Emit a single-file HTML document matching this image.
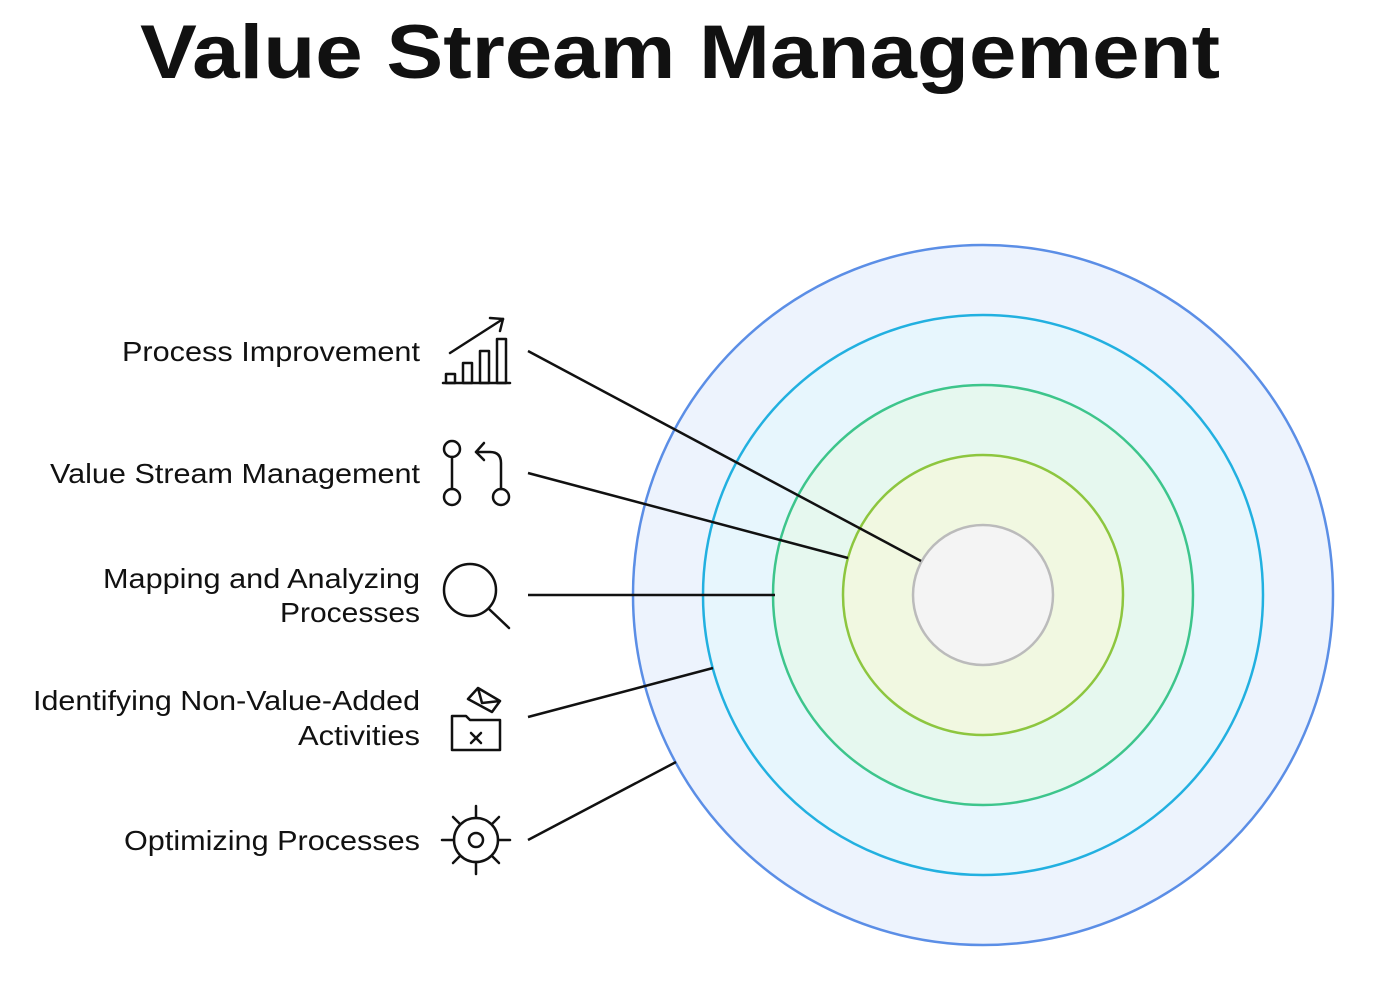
<!DOCTYPE html>
<html><head><meta charset="utf-8"><style>
body{margin:0;background:#fff;width:1384px;height:982px;overflow:hidden}
svg text{font-family:"Liberation Sans",sans-serif}
</style></head><body>
<svg width="1384" height="982" viewBox="0 0 1384 982" xmlns="http://www.w3.org/2000/svg">
<text x="140" y="78" font-size="76" font-weight="bold" fill="#111" textLength="1080" lengthAdjust="spacingAndGlyphs">Value Stream Management</text>
<circle cx="983" cy="595" r="350" fill="#edf3fd" stroke="#5b8ee6" stroke-width="2.5"/>
<circle cx="983" cy="595" r="280" fill="#e7f6fd" stroke="#22b0e0" stroke-width="2.5"/>
<circle cx="983" cy="595" r="210" fill="#e6f8ef" stroke="#3dc58c" stroke-width="2.5"/>
<circle cx="983" cy="595" r="140" fill="#f1f8e1" stroke="#8dc63f" stroke-width="2.5"/>
<circle cx="983" cy="595" r="70" fill="#f4f4f4" stroke="#bbbbbb" stroke-width="2.5"/>
<g stroke="#111" stroke-width="2.5" fill="none">
<line x1="528" y1="351" x2="921" y2="561"/>
<line x1="528" y1="473" x2="848" y2="558"/>
<line x1="528" y1="595" x2="775" y2="595"/>
<line x1="528" y1="717" x2="713" y2="668"/>
<line x1="528" y1="840" x2="676" y2="762"/>
</g>
<g font-size="28" fill="#111" lengthAdjust="spacingAndGlyphs">
<text x="122" y="361" textLength="298" lengthAdjust="spacingAndGlyphs">Process Improvement</text>
<text x="50" y="483" textLength="370" lengthAdjust="spacingAndGlyphs">Value Stream Management</text>
<text x="103" y="588" textLength="317" lengthAdjust="spacingAndGlyphs">Mapping and Analyzing</text>
<text x="280" y="622" textLength="140" lengthAdjust="spacingAndGlyphs">Processes</text>
<text x="33" y="710" textLength="387" lengthAdjust="spacingAndGlyphs">Identifying Non-Value-Added</text>
<text x="298" y="745" textLength="122" lengthAdjust="spacingAndGlyphs">Activities</text>
<text x="124" y="850" textLength="296" lengthAdjust="spacingAndGlyphs">Optimizing Processes</text>
</g>
<g stroke="#111" stroke-width="2.5" fill="none" stroke-linecap="round" stroke-linejoin="round">
<line x1="443" y1="383" x2="510" y2="383"/>
<rect x="446" y="374" width="9" height="9"/>
<rect x="463" y="363" width="9" height="20"/>
<rect x="480" y="351" width="9" height="32"/>
<rect x="497" y="339" width="9" height="44"/>
<line x1="450" y1="353" x2="503" y2="319"/>
<polyline points="490,318 503,319 500,331"/>
<circle cx="452" cy="449" r="8"/>
<circle cx="452" cy="497" r="8"/>
<line x1="452" y1="457" x2="452" y2="489"/>
<circle cx="501" cy="497" r="8"/>
<path d="M501 489 V463 Q501 452 490 452 H476"/>
<polyline points="484,443 476,452 484,460"/>
<circle cx="470" cy="590" r="26"/>
<line x1="489" y1="609" x2="509" y2="628"/>
<path d="M452 716 H466 L470 720 H500 V750 H452 Z"/>
<path d="M471 733 L481 743 M481 733 L471 743"/>
<path d="M468 699 L478 688 L500 701 L492 712 Z M478 688 L482 703 L500 701"/>
<circle cx="476" cy="840" r="22"/>
<circle cx="476" cy="840" r="7"/>
<line x1="476" y1="806" x2="476" y2="818"/><line x1="476" y1="862" x2="476" y2="874"/>
<line x1="442" y1="840" x2="454" y2="840"/><line x1="498" y1="840" x2="510" y2="840"/>
<line x1="453" y1="817" x2="460" y2="824"/><line x1="492" y1="856" x2="499" y2="863"/>
<line x1="499" y1="817" x2="492" y2="824"/><line x1="460" y1="856" x2="453" y2="863"/>
</g>
</svg>
</body></html>
